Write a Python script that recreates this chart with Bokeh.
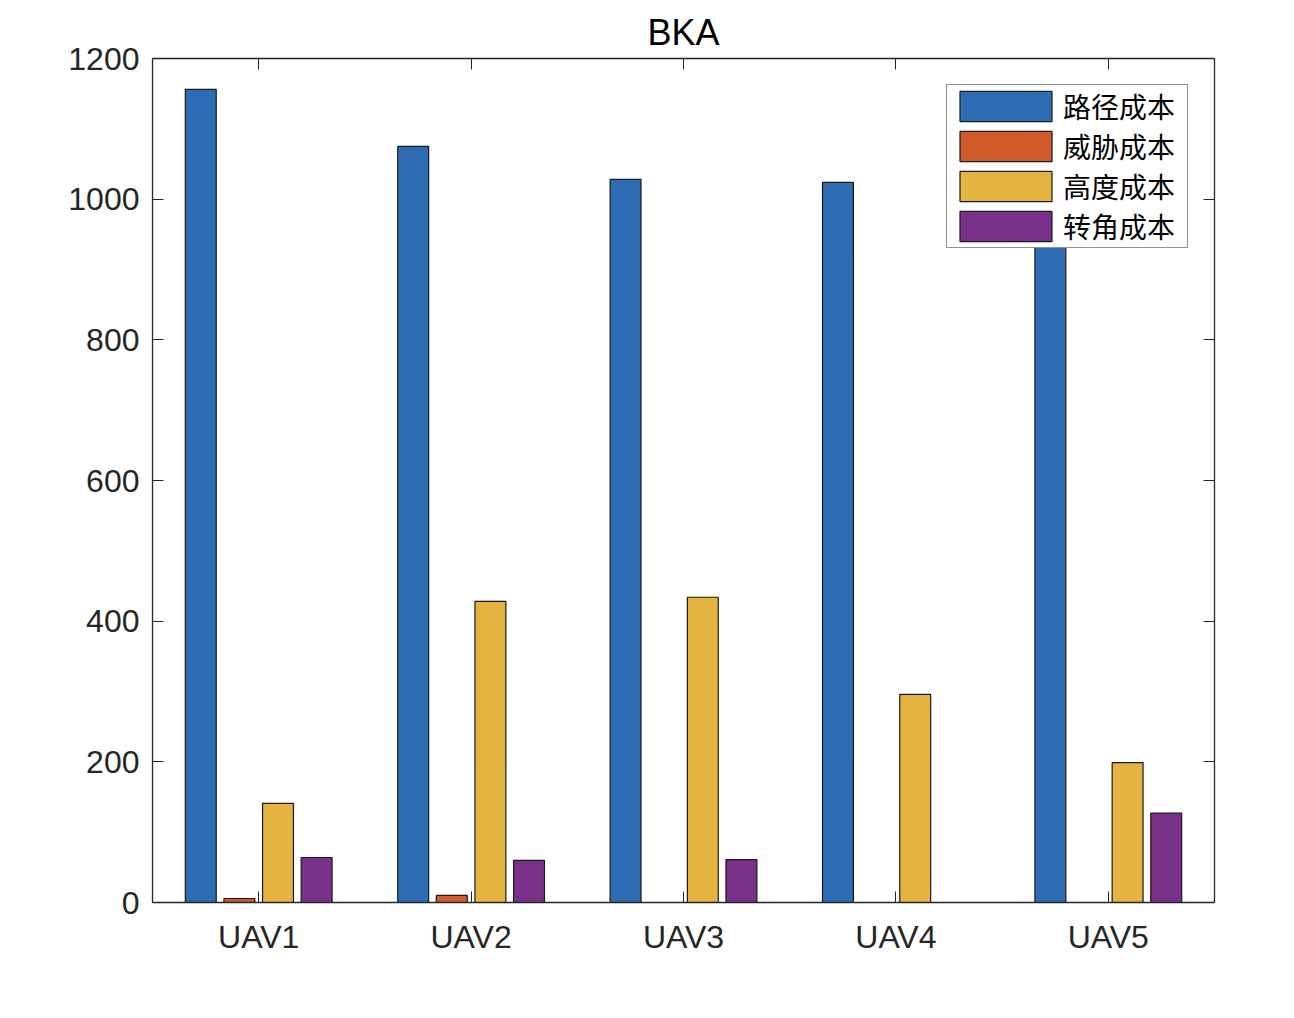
from bokeh.plotting import figure
from bokeh.models import ColumnDataSource, FixedTicker, LinearAxis, Range1d, Legend, LegendItem
from bokeh.embed import file_html
from bokeh.resources import INLINE

categories = ["UAV1", "UAV2", "UAV3", "UAV4", "UAV5"]
series_names = ["路径成本", "威胁成本", "高度成本", "转角成本"]
path_cost = [1156, 1075, 1028, 1024, 990]
threat_cost = [5.7, 10, 0, 0, 0]
height_cost = [141, 428, 434, 296, 199]
turn_cost = [64, 60, 61, 0, 127]
y_ticks = [0, 200, 400, 600, 800, 1000, 1200]

colors = ["#2E6DB4", "#CF5A2A", "#E4B340", "#7A3189"]
series = [path_cost, threat_cost, height_cost, turn_cost]
offsets = [-0.2727, -0.0909, 0.0909, 0.2727]
bar_w = 0.1455

FONT = "Liberation Sans"
AX = "#262626"

p = figure(width=1278, height=1002, output_backend="svg", toolbar_location=None,
           x_range=Range1d(0.5, 5.5), y_range=Range1d(0, 1200),
           min_border_left=152, min_border_right=64, min_border_top=58, min_border_bottom=100,
           title="BKA", x_axis_type=None, y_axis_type=None)
p.title.align = "center"
p.title.text_font = FONT
p.title.text_font_size = "36px"
p.title.text_font_style = "normal"
p.title.text_color = "#000000"
p.title.standoff = 12
p.grid.visible = False
p.outline_line_color = None
p.background_fill_color = "white"
p.border_fill_color = "white"

xs = list(range(1, len(categories) + 1))
items = []
for name, vals, col, off in zip(series_names, series, colors, offsets):
    src = ColumnDataSource(dict(x=[xi + off for xi in xs], top=vals))
    r = p.vbar(x="x", top="top", bottom=0, width=bar_w, source=src,
               fill_color=col, line_color="#1a1a1a", line_width=1.2)
    items.append(LegendItem(label=name, renderers=[r]))

xt = FixedTicker(ticks=xs)
yt = FixedTicker(ticks=y_ticks)

def style(ax, labels=True):
    ax.axis_line_color = AX
    ax.axis_line_width = 1.3
    ax.major_tick_line_color = AX
    ax.major_tick_in = 11
    ax.major_tick_out = 0
    ax.minor_tick_line_color = None
    ax.major_label_text_font = FONT
    ax.major_label_text_font_size = "32px"
    ax.major_label_text_color = AX
    if not labels:
        ax.major_label_overrides = {t: "" for t in ax.ticker.ticks}
        ax.major_label_standoff = 0

bx = LinearAxis(ticker=xt, major_label_overrides={i + 1: c for i, c in enumerate(categories)})
style(bx)
bx.major_label_standoff = 16
p.add_layout(bx, "below")
ly = LinearAxis(ticker=yt)
style(ly)
ly.major_label_standoff = 13
p.add_layout(ly, "left")
ry = LinearAxis(ticker=yt)
style(ry, labels=False)
p.add_layout(ry, "right")
ax_top = LinearAxis(ticker=xt)
style(ax_top, labels=False)
p.add_layout(ax_top, "above")

legend = Legend(items=items, location="top_right")
legend.margin = 26
legend.padding = 1
legend.spacing = 0
legend.glyph_width = 115
legend.glyph_height = 38
legend.label_height = 28
legend.label_width = 123
legend.label_standoff = 0
legend.label_text_font = "Noto Sans CJK SC"
legend.label_text_font_size = "28px"
legend.label_text_color = "#000000"
legend.border_line_color = AX
legend.border_line_width = 1.3
legend.background_fill_alpha = 1.0
p.add_layout(legend, "center")

open("out.html", "w").write(file_html(p, INLINE))
